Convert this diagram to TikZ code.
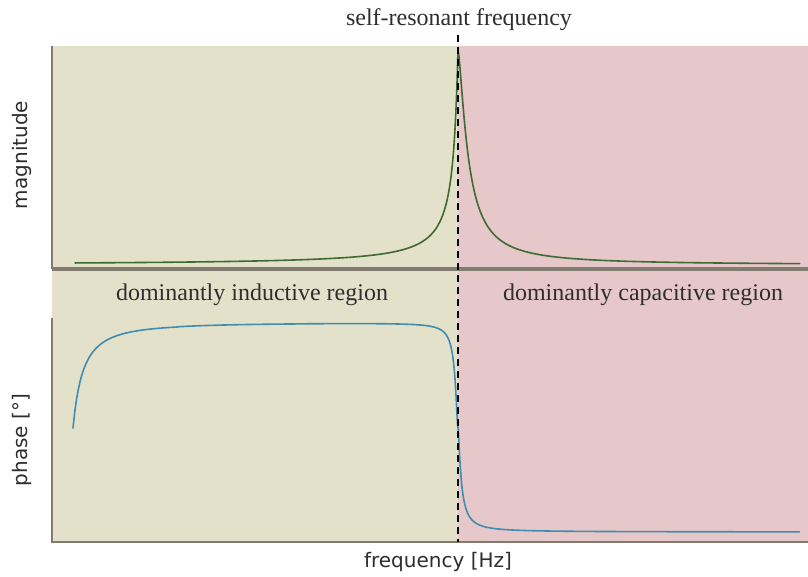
\documentclass[tikz,border=0pt]{standalone}
\usepackage{fontspec}
\setmainfont{Liberation Serif}
\newfontfamily\axisfont{DejaVu Sans}
\definecolor{indbg}{HTML}{E3E1CA}
\definecolor{capbg}{HTML}{E6C8CA}
\definecolor{axisgray}{HTML}{817B70}
\definecolor{magcurve}{HTML}{3E6B32}
\definecolor{phasecurve}{HTML}{3F8DB0}
\definecolor{txt}{HTML}{2E2E2E}
\begin{document}
\begin{tikzpicture}[x=1pt,y=-1pt,
  serifLabel/.style={font=\fontsize{24}{28}\selectfont, text=txt, inner sep=0pt},
  axisLabel/.style={font=\axisfont\fontsize{20}{23}\selectfont, text=txt, inner sep=0pt},
  axisLine/.style={draw=axisgray, line width=2pt},
  curve/.style={line width=1.6pt, line join=round, line cap=round}]
\useasboundingbox (0,0) rectangle (808,576);
\fill[white] (0,0) rectangle (808,576);
% inductive / capacitive backgrounds
\fill[indbg] (52,46) rectangle (458,542);
\fill[capbg] (458,46) rectangle (808,542);
% axes
\draw[axisLine] (52,46) -- (52,269);
\draw[draw=axisgray, line width=3.2pt] (52,269) -- (808,269);
\draw[axisLine] (52,318) -- (52,542) -- (808,542);
% magnitude curve (resonance peak)
\draw[curve, magcurve]
  plot[domain=5.948:-2.5, samples=220, variable=\t]
    ({458-exp(\t)}, {265-215/(1+exp(1.07*(\t-1.609)))})
  -- plot[domain=-2.5:5.835, samples=220, variable=\t]
    ({458+exp(\t)}, {265-215/(1+exp(1.45*(\t-2.342)))});
% phase curve
\draw[curve, phasecurve]
  plot[domain=73:430, samples=200, variable=\x]
    (\x, {322+106*exp(1.5*ln(15/(\x-58)))+105/(1+exp(1.6*ln((458-\x)/3.3)))})
  -- plot[domain=3.332:-3, samples=120, variable=\t]
    ({458-exp(\t)}, {322+106*exp(1.5*ln(15/(400-exp(\t))))+105/(1+exp(1.6*(\t-1.194)))})
  -- plot[domain=-3:5.835, samples=200, variable=\t]
    ({458+exp(\t)}, {532-105/(1+exp(1.4*(\t-1.182)))});
% self-resonant frequency marker
\coordinate (srTop) at (458,35);
\coordinate (srBot) at (458,542);
\draw[black, line width=2.2pt, dash pattern=on 7pt off 5pt] (srTop) -- (srBot);
% labels
\node[serifLabel] (title) at (459,20) {self-resonant frequency};
\node[serifLabel] (lblInd) at (252,295) {dominantly inductive region};
\node[serifLabel] (lblCap) at (643,295) {dominantly capacitive region};
\node[axisLabel, rotate=90] (lblMag) at (22,155) {magnitude};
\node[axisLabel, rotate=90] (lblPhase) at (22,440) {phase [°]};
\node[axisLabel] (lblFreq) at (438,562) {frequency [Hz]};
\end{tikzpicture}
\end{document}
